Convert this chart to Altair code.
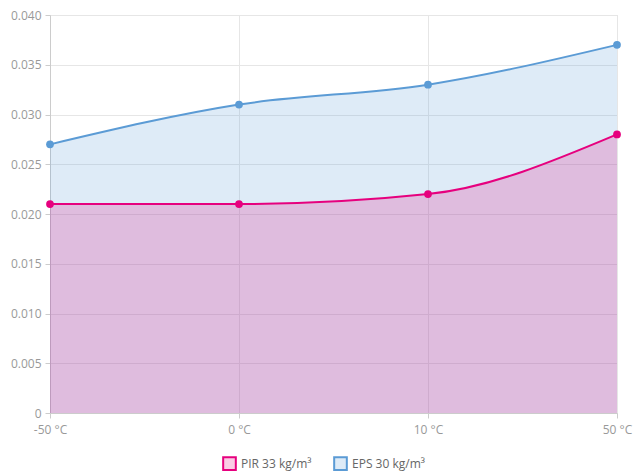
import altair as alt
import pandas as pd

temps = ["-50 °C", "0 °C", "10 °C", "50 °C"]
series = ["PIR 33 kg/m³", "EPS 30 kg/m³"]
pir = [0.021, 0.021, 0.022, 0.028]
eps = [0.027, 0.031, 0.033, 0.037]
strong = ["#e6007e", "#5b9bd5"]
light = ["#facce5", "#deebf7"]

rows = []
for t, v in zip(temps, eps):
    rows.append({"temp": t, "series": series[1], "value": v, "order": 0})
for t, v in zip(temps, pir):
    rows.append({"temp": t, "series": series[0], "value": v, "order": 1})
df = pd.DataFrame(rows)

FONT = "Open Sans"

x = alt.X("temp:N", sort=temps, title=None,
          scale=alt.Scale(type="point", padding=0),
          axis=alt.Axis(labelAngle=0, grid=True, gridColor="#e6e6e6", domainColor="#cccccc",
                        tickColor="#cccccc", tickSize=5, labelColor="#999999", labelFontSize=12,
                        labelFont=FONT, labelPadding=6))
y = alt.Y("value:Q", title=None, stack=None,
          scale=alt.Scale(domain=[0, 0.04], nice=False),
          axis=alt.Axis(values=[0, 0.005, 0.01, 0.015, 0.02, 0.025, 0.03, 0.035, 0.04],
                        labelExpr="datum.value == 0 ? '0' : format(datum.value, '.3f')",
                        gridColor="#e6e6e6", domainColor="#cccccc", tickColor="#cccccc",
                        tickSize=5, labelColor="#999999", labelFontSize=12, labelFont=FONT,
                        labelPadding=4))

strong_scale = alt.Scale(domain=series, range=strong)
light_scale = alt.Scale(domain=series, range=light)

legend = alt.Legend(title=None, orient="none", direction="horizontal", symbolType="square",
                    symbolSize=160, symbolStrokeWidth=2, labelFont=FONT, labelFontSize=12,
                    labelColor="#666666", columnPadding=18, legendX=172, legendY=441)

base = alt.Chart(df)

area = base.mark_area(interpolate="monotone", fillOpacity=0.2).encode(
    x=x, y=y,
    fill=alt.Fill("series:N", scale=strong_scale, sort=series, legend=None),
    order=alt.Order("order:Q"),
)
line = base.mark_line(interpolate="monotone", strokeWidth=2).encode(
    x=x, y=y,
    stroke=alt.Stroke("series:N", scale=strong_scale, sort=series, legend=None),
    detail="series:N",
)
pts = base.mark_point(filled=True, size=60, opacity=1).encode(
    x=x, y=y,
    fill=alt.Fill("series:N", scale=strong_scale, sort=series, legend=None),
)
# invisible layer that only carries the legend (light fill, strong border)
key = base.mark_square(size=0, opacity=1).encode(
    fill=alt.Fill("series:N", scale=light_scale, sort=series, legend=legend),
    stroke=alt.Stroke("series:N", scale=strong_scale, sort=series, legend=legend),
)

chart = alt.layer(area, line, pts, key).resolve_scale(
    fill="independent", stroke="independent"
).properties(
    width=567, height=398,
    autosize=alt.AutoSizeParams(type="none"),
    padding={"left": 42, "top": 7, "right": 17, "bottom": 58},
).configure_view(stroke=None).configure(font=FONT)

chart.save("out.html", embed_options={"renderer": "svg", "actions": False})
